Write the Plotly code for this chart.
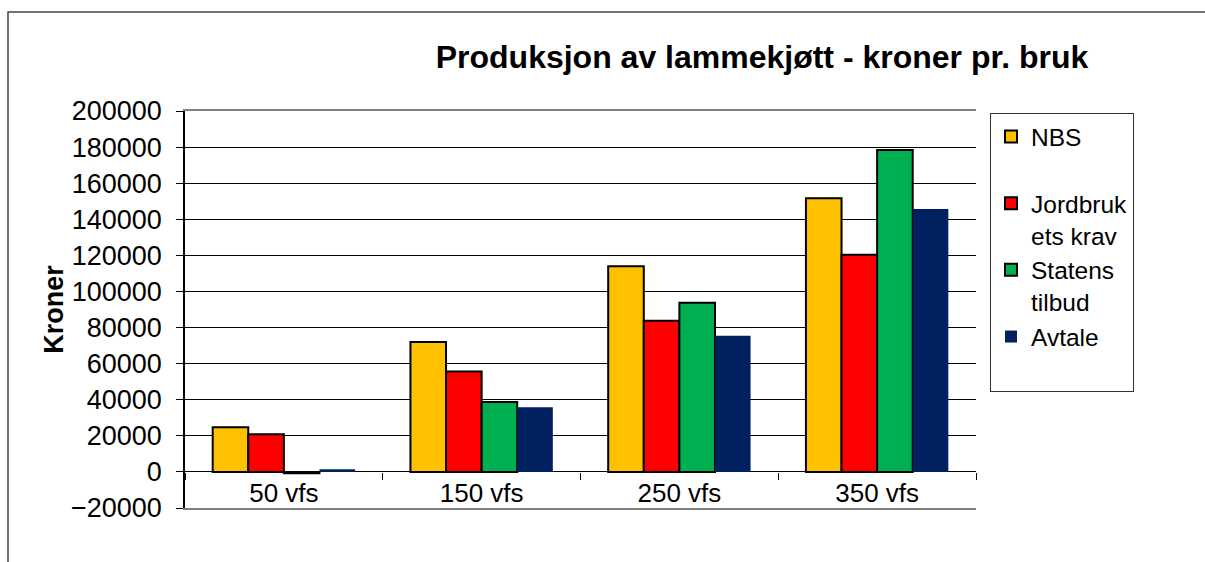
import plotly.graph_objects as go

categories = ["50 vfs", "150 vfs", "250 vfs", "350 vfs"]
series_names = ["NBS<br> ", "Jordbruk<br>ets krav", "Statens<br>tilbud", "Avtale<br> "]
nbs = [24700, 72000, 114000, 151700]
jordbruk = [20900, 55600, 83700, 120300]
staten = [-800, 38800, 93700, 178400]
avtale = [1500, 35800, 75400, 145700]
colors = ["#FFC000", "#FF0000", "#00B050", "#002060"]
outlines = [2, 2, 2, 0]
y_tickvals = list(range(-20000, 200001, 20000))

W, H = 1205, 562
L, R, T, B = 185, 976, 111, 508

fig = go.Figure()
for name, vals, col, ow in zip(series_names, [nbs, jordbruk, staten, avtale], colors, outlines):
    fig.add_trace(go.Bar(
        x=categories, y=vals, name=name,
        marker=dict(color=col, line=dict(color="#000000", width=ow)),
    ))

# empty trace so the frame axis (x2) is drawn
fig.add_trace(go.Scatter(x=[], y=[], xaxis="x2", showlegend=False, hoverinfo="skip"))

font_family = "Liberation Sans, Arial, sans-serif"
zero_pos = 20000 / 220000

fig.update_layout(
    width=W, height=H,
    margin=dict(l=L, r=W - R, t=T, b=H - B, pad=0),
    paper_bgcolor="white", plot_bgcolor="white",
    font=dict(family=font_family, size=24, color="#000000"),
    barmode="group", bargap=0.28, bargroupgap=0,
    title=dict(text="<b>Produksjon av lammekjøtt - kroner pr. bruk</b>",
               x=762 / W, xanchor="center", y=1 - 57 / H, yanchor="middle",
               font=dict(size=32, family=font_family, color="#000000")),
    xaxis=dict(type="category", anchor="free", position=zero_pos,
               showgrid=False, tickson="boundaries", ticks="outside", ticklen=7,
               tickcolor="#000000", tickfont=dict(size=26, color="#000000"),
               ticklabelstandoff=3, showline=False, zeroline=False),
    xaxis2=dict(overlaying="x", anchor="y", range=[-0.5, 3.5],
                showticklabels=False, ticks="", showgrid=False,
                showline=True, linecolor="#808080", linewidth=2, mirror=True,
                zeroline=False),
    yaxis=dict(range=[-20000, 200000], tickvals=y_tickvals, tickformat="d",
               showgrid=True, gridcolor="#000000", gridwidth=1,
               zeroline=True, zerolinecolor="#000000", zerolinewidth=1,
               showline=True, linecolor="#000000", linewidth=1.5,
               ticks="outside", ticklen=7, tickcolor="#000000",
               ticklabelstandoff=9, tickfont=dict(size=27, color="#000000"),
               title=dict(text="<b>Kroner</b>", font=dict(size=27), standoff=0)),
    yaxis2=dict(overlaying="y", side="right", range=[-20000, 200000], showgrid=False,
                showticklabels=False, ticks="", showline=True, linecolor="#808080",
                linewidth=2, zeroline=False),
    legend=dict(x=(990 - L) / (R - L), xanchor="left", y=(B - 113) / (B - T), yanchor="top",
                bordercolor="#333333", borderwidth=1, bgcolor="white",
                font=dict(size=24.5, color="#000000"), valign="top", tracegroupgap=0),
    shapes=[dict(type="rect", xref="paper", yref="paper",
                 x0=(8 - L) / (R - L), x1=(1230 - L) / (R - L),
                 y0=(B - 600) / (B - T), y1=(B - 12) / (B - T),
                 line=dict(color="#444444", width=1.5), fillcolor="rgba(0,0,0,0)", layer="below")],
)

fig.write_html("out.html", config={"displayModeBar": False},
               post_script="document.body.style.margin='0px';")
